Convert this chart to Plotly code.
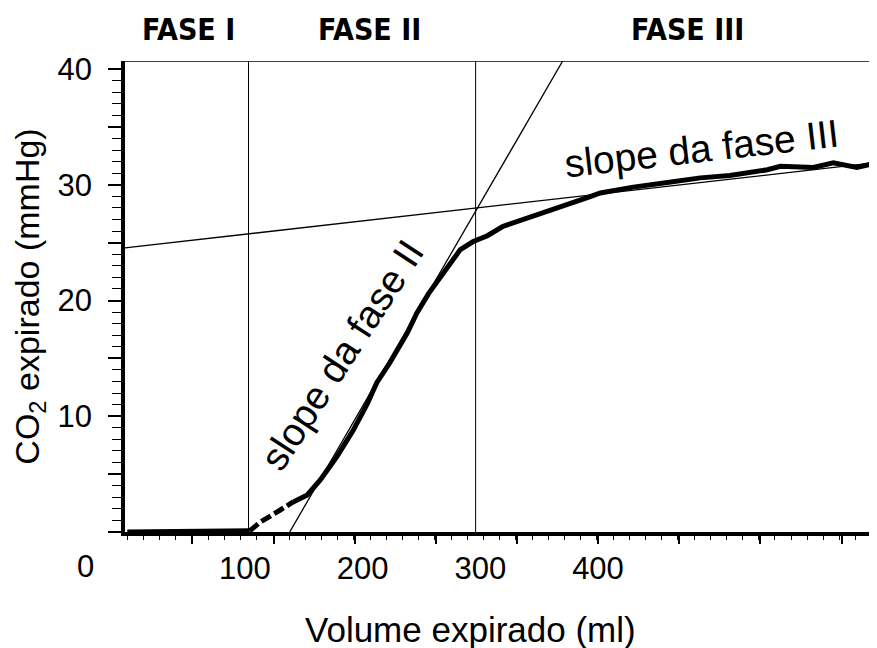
import plotly.graph_objects as go

# expired volume (ml) vs expired CO2 (mmHg)
vol = [0, 60, 104, 113, 130, 141, 153, 164, 178, 192, 204, 212, 223, 238, 246,
       256, 266, 274, 283, 294, 306, 319, 340, 357, 374, 391, 402, 430, 459,
       487, 512, 544, 555, 583, 600, 620, 637]
co2 = [0, 0, 0.1, 0.85, 1.9, 2.6, 3.2, 4.5, 6.5, 8.8, 11.1, 12.9, 14.6, 17.2, 18.9,
       20.6, 22.0, 23.1, 24.4, 25.1, 25.6, 26.4, 27.1, 27.7, 28.3, 28.9, 29.3, 29.8, 30.2,
       30.6, 30.8, 31.3, 31.6, 31.5, 31.9, 31.5, 31.9]

# dashed stretch at the start of phase II (index range into vol/co2)
dash_from, dash_to = 2, 5

# phase boundaries (ml) and the two slope lines
phase_bounds = [103, 296]
phase_names = ["FASE I", "FASE II", "FASE III"]
phase_label_x = [52, 206, 476]
slope2_x = [138, 370]
slope2_y = [0, 40.7]
slope3_x = [-2, 637]
slope3_y = [24.55, 31.93]
top_y = 40.7

x_labels = [100, 200, 300, 400]
x_major_ticks = [55, 124.6, 193.5, 262.3, 331.1, 400, 468.8, 537.7, 607.4]
y_ticks = [0, 5, 10, 15, 20, 25, 30, 35, 40]
y_ticktext = ["", "", "10", "", "20", "", "30", "", "40"]

X_RANGE = [-1.95, 637.1]
Y_RANGE = [0, 40.7]
FONT = "Liberation Sans, Arial, Helvetica, sans-serif"
BOLD_NARROW = "Liberation Sans Narrow, DejaVu Sans Condensed, Arial Narrow, sans-serif"

fig = go.Figure()

# reference lines
for xb in phase_bounds:
    fig.add_trace(go.Scatter(x=[xb, xb], y=[0, top_y], mode="lines",
                             line=dict(color="black", width=1), hoverinfo="skip"))
fig.add_trace(go.Scatter(x=[X_RANGE[0], X_RANGE[1]], y=[top_y, top_y], mode="lines",
                         line=dict(color="black", width=1.6), hoverinfo="skip"))
fig.add_trace(go.Scatter(x=slope2_x, y=slope2_y, mode="lines",
                         line=dict(color="black", width=1.3), hoverinfo="skip"))
fig.add_trace(go.Scatter(x=slope3_x, y=slope3_y, mode="lines",
                         line=dict(color="black", width=1.3), hoverinfo="skip"))

# capnogram curve
fig.add_trace(go.Scatter(x=vol[:dash_from + 1], y=co2[:dash_from + 1], mode="lines",
                         line=dict(color="black", width=5)))
fig.add_trace(go.Scatter(x=vol[dash_from:dash_to + 1], y=co2[dash_from:dash_to + 1],
                         mode="lines", line=dict(color="black", width=5, dash="11px,4px")))
fig.add_trace(go.Scatter(x=vol[dash_to:], y=co2[dash_to:], mode="lines",
                         line=dict(color="black", width=5)))

# dummy trace so the overlay axis carrying the odd tick marks gets drawn
fig.add_trace(go.Scatter(x=[None], y=[None], xaxis="x2", hoverinfo="skip"))

for name, xl in zip(phase_names, phase_label_x):
    fig.add_annotation(x=xl, y=1.066, xref="x", yref="paper", text=name, showarrow=False,
                       xanchor="center", yanchor="middle",
                       font=dict(family=BOLD_NARROW, size=30, color="black", weight="bold"))

fig.add_annotation(x=183, y=15.3, text="slope da fase II", textangle=-57, showarrow=False,
                   font=dict(family=FONT, size=39, color="black"))
fig.add_annotation(x=488, y=33.1, text="slope da fase III", textangle=-6.5, showarrow=False,
                   font=dict(family=FONT, size=39, color="black"))
fig.add_annotation(x=-0.053, y=-0.074, xref="paper", yref="paper", text="0",
                   xanchor="center", yanchor="middle",
                   showarrow=False, font=dict(family=FONT, size=31, color="black"))
# x title sits left of the plot centre in the original, so it is placed by hand
fig.add_annotation(x=0.459, y=-0.208, xref="paper", yref="paper",
                   text="Volume expirado (ml)", xanchor="center", yanchor="middle",
                   showarrow=False, font=dict(family=FONT, size=35, color="black"))

# the page puts the figure 8px in from the top-left corner, so the figure is
# 8px smaller than the window and the margins are 8px tighter on those sides
fig.update_layout(
    width=869, height=640,
    margin=dict(l=117, r=0, t=53, b=116, autoexpand=False),
    paper_bgcolor="white", plot_bgcolor="white",
    showlegend=False,
    font=dict(family=FONT, color="black"),
    xaxis=dict(
        range=X_RANGE, showgrid=False, zeroline=False, automargin=False,
        showline=True, linecolor="black", linewidth=3.5,
        tickmode="array", tickvals=x_labels, ticks="",
        tickfont=dict(size=31), ticklabelstandoff=6,
    ),
    xaxis2=dict(
        range=X_RANGE, overlaying="x", anchor="y", side="bottom", automargin=False,
        showgrid=False, zeroline=False, showline=False, showticklabels=False,
        tickmode="array", tickvals=x_major_ticks, ticks="outside",
        ticklen=11, tickwidth=1.6, tickcolor="black",
        minor=dict(tickmode="linear", tick0=0, dtick=13.76, ticks="outside",
                   ticklen=7, tickwidth=1.3, tickcolor="black"),
    ),
    yaxis=dict(
        range=Y_RANGE, showgrid=False, zeroline=False, automargin=False,
        showline=True, linecolor="black", linewidth=3.5,
        tickmode="array", tickvals=y_ticks, ticktext=y_ticktext,
        ticks="outside", ticklen=13, tickwidth=1.6, tickcolor="black",
        minor=dict(dtick=1, ticks="outside", ticklen=9, tickwidth=1.3, tickcolor="black"),
        tickfont=dict(size=31), ticklabelstandoff=10,
        title=dict(text="CO<sub>2</sub> expirado (mmHg)", font=dict(size=34), standoff=14),
    ),
)

fig.write_html("out.html")
